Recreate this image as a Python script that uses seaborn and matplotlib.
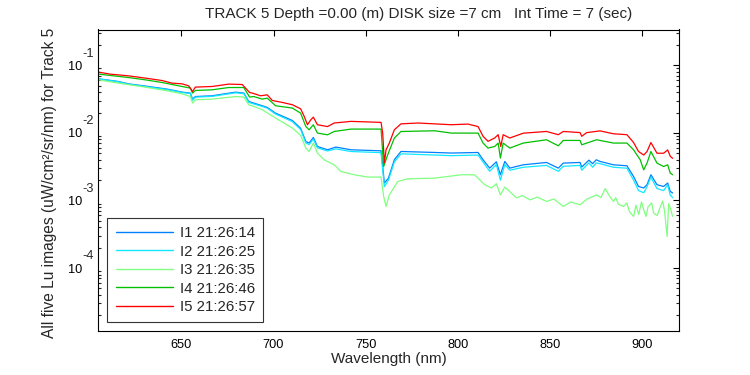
import numpy as np
import pandas as pd
import matplotlib
matplotlib.use("Agg")
import matplotlib.pyplot as plt
import seaborn as sns

# ---------------- data ----------------
wl_i5 = [605.0, 611.4, 621.3, 630.4, 639.5, 644.9, 650.4, 654.0, 656.1, 657.6, 666.7, 675.7, 683.0,
         685.7, 687.0, 688.5, 693.0, 696.6, 699.3, 704.8, 710.2, 714.7, 716.5, 718.4, 720.2, 721.6,
         723.8, 729.3, 732.9, 742.0, 758.3, 759.2, 760.1, 761.0, 762.8, 765.5, 769.1, 778.2, 787.3,
         796.4, 805.4, 810.9, 813.6, 816.3, 819.9, 821.8, 823.2, 824.5, 828.1, 835.4, 848.0, 854.4,
         857.1, 866.2, 867.1, 869.8, 877.0, 884.3, 891.6, 895.2, 897.9, 900.7, 902.5, 904.6, 907.9,
         911.5, 913.7, 915.1, 916.4]
lu_i5 = [0.0793, 0.0741, 0.0699, 0.0647, 0.0596, 0.0545, 0.0532, 0.0497, 0.0409, 0.0476, 0.0486, 0.0527, 0.0520,
         0.0434, 0.0396, 0.0388, 0.0354, 0.0366, 0.0302, 0.0282, 0.0261, 0.0227, 0.0179, 0.0132, 0.0156, 0.0171,
         0.0132, 0.0124, 0.0140, 0.0148, 0.0143, 0.0099, 0.0036, 0.0056, 0.0071, 0.0111, 0.0136, 0.0140, 0.0136,
         0.0132, 0.0135, 0.0124, 0.0089, 0.0075, 0.0084, 0.0094, 0.0063, 0.0094, 0.0084, 0.0099, 0.0105, 0.0094,
         0.0105, 0.0101, 0.0089, 0.0101, 0.0107, 0.0097, 0.0094, 0.0072, 0.0053, 0.0047, 0.0053, 0.0072, 0.0050,
         0.0050, 0.0056, 0.0045, 0.0042]

wl_i4 = [605.0, 621.3, 630.4, 639.5, 650.4, 654.9, 656.1, 657.6, 666.7, 675.7, 683.9, 685.7, 687.0, 689.3,
         693.9, 696.6, 701.1, 710.2, 714.7, 717.5, 719.3, 721.6, 723.8, 729.3, 732.9, 742.0, 758.3, 759.7,
         761.9, 765.5, 769.1, 787.3, 796.4, 810.9, 813.6, 816.3, 819.9, 821.8, 823.0, 824.5, 828.1, 835.4,
         848.0, 854.4, 857.1, 866.2, 867.1, 875.2, 884.3, 891.6, 895.2, 898.8, 900.7, 902.5, 904.6, 907.9,
         911.5, 913.7, 915.1, 916.4]
lu_i4 = [0.0741, 0.0660, 0.0610, 0.0557, 0.0486, 0.0460, 0.0388, 0.0424, 0.0434, 0.0469, 0.0469, 0.0388, 0.0339, 0.0345,
         0.0316, 0.0327, 0.0252, 0.0233, 0.0196, 0.01244, 0.01111, 0.01318, 0.00993, 0.00937, 0.01049, 0.01138, 0.01138, 0.00318,
         0.00474, 0.00838, 0.01049, 0.01074, 0.00993, 0.00993, 0.00707, 0.00596, 0.00629, 0.00707, 0.00424, 0.00707, 0.00596, 0.00707,
         0.00791, 0.00644, 0.00773, 0.00773, 0.00667, 0.00791, 0.00707, 0.00707, 0.00562, 0.00400, 0.00284, 0.00357, 0.00531, 0.00357,
         0.00318, 0.00337, 0.00254, 0.00240]

wl_i1 = [605.0, 615.9, 621.3, 632.2, 642.2, 650.4, 654.9, 656.1, 657.6, 666.7, 679.4, 683.9, 686.6, 689.3,
         693.9, 696.6, 701.1, 710.2, 714.7, 717.5, 719.3, 721.6, 723.8, 729.3, 733.8, 742.0, 758.3, 760.1,
         762.3, 765.5, 769.1, 787.3, 796.4, 810.9, 813.6, 817.2, 820.8, 823.0, 825.4, 828.1, 835.4, 848.0,
         854.4, 857.1, 866.2, 867.1, 871.0, 873.0, 875.0, 877.0, 884.3, 891.6, 895.2, 897.9, 900.7, 902.5,
         904.6, 907.9, 911.5, 913.7, 915.1, 916.4]
lu_i1 = [0.0631, 0.0576, 0.0532, 0.0486, 0.0445, 0.0401, 0.0388, 0.0316, 0.0345, 0.0354, 0.0401, 0.0388, 0.0291, 0.0276,
         0.0252, 0.0238, 0.0196, 0.01525, 0.0117, 0.00746, 0.00707, 0.00855, 0.00629, 0.00562, 0.00617, 0.00562, 0.00543, 0.00181,
         0.00214, 0.00400, 0.00531, 0.00513, 0.00503, 0.00513, 0.00400, 0.00301, 0.00373, 0.00240, 0.00378, 0.00301, 0.00337, 0.00365,
         0.00301, 0.00357, 0.00365, 0.00312, 0.00395, 0.00350, 0.00400, 0.00378, 0.00337, 0.00326, 0.00226, 0.00161, 0.00153, 0.00171,
         0.00240, 0.00171, 0.00161, 0.00181, 0.00136, 0.00129]

wl_i2 = wl_i1
lu_i2 = [0.0631, 0.0570, 0.0525, 0.0478, 0.0438, 0.0396, 0.0382, 0.0305, 0.0338, 0.0347, 0.0392, 0.0381, 0.0283, 0.0268,
         0.0246, 0.0232, 0.0190, 0.0147, 0.0112, 0.0071, 0.0067, 0.0081, 0.0060, 0.0054, 0.0058, 0.0053, 0.0051, 0.0016,
         0.0020, 0.0037, 0.0049, 0.0047, 0.0046, 0.0047, 0.0037, 0.0027, 0.0034, 0.0020, 0.0034, 0.0028, 0.0031, 0.0033,
         0.0027, 0.0032, 0.0033, 0.0028, 0.0036, 0.0031, 0.0036, 0.0035, 0.0031, 0.0030, 0.0020, 0.0014, 0.0013, 0.0016,
         0.0022, 0.0015, 0.0014, 0.0017, 0.0012, 0.0011]

wl_i3 = [605.0, 615.9, 630.4, 642.2, 650.4, 654.9, 656.1, 657.6, 666.7, 679.4, 683.9, 686.6, 689.3, 693.9,
         701.1, 710.2, 714.7, 717.5, 719.3, 721.6, 723.8, 727.4, 732.9, 736.5, 743.7, 751.0, 758.3, 759.7,
         761.0, 762.8, 767.4, 772.8, 787.3, 801.8, 809.0, 814.5, 818.1, 820.8, 823.0, 825.4, 831.7, 835.0,
         839.0, 843.0, 848.0, 852.0, 857.1, 861.0, 866.2, 870.0, 875.2, 877.5, 879.8, 882.0, 884.3, 885.5,
         887.0, 889.8, 891.5, 893.0, 895.2, 896.5, 898.0, 899.5, 900.7, 902.0, 903.0, 905.0, 906.1, 908.0,
         909.8, 911.0, 912.0, 913.4, 914.2, 915.1, 916.4]
lu_i3 = [0.0610, 0.0545, 0.0476, 0.0420, 0.0379, 0.0345, 0.0276, 0.0309, 0.0316, 0.0345, 0.0339, 0.0260, 0.0246, 0.0220,
         0.0166, 0.0118, 0.00922, 0.00596, 0.00531, 0.00707, 0.00503, 0.00400, 0.00337, 0.00269, 0.00240, 0.00222, 0.00222, 0.00115,
         0.000815, 0.00121, 0.00191, 0.00209, 0.00214, 0.00240, 0.00240, 0.00171, 0.00153, 0.00177, 0.00121, 0.00158, 0.00109, 0.00118,
         0.00102, 0.00112, 0.000967, 0.00105, 0.000815, 0.00095, 0.000863, 0.00105, 0.00121, 0.00110, 0.00150, 0.00118, 0.000967, 0.00110,
         0.00088, 0.000815, 0.00092, 0.00068, 0.000580, 0.00085, 0.00062, 0.00095, 0.000728, 0.00058, 0.00080, 0.00092, 0.000651, 0.00060,
         0.000815, 0.00098, 0.00070, 0.000293, 0.00090, 0.000772, 0.000580]

labels = ["I1 21:26:14", "I2 21:26:25", "I3 21:26:35", "I4 21:26:46", "I5 21:26:57"]
colors = ["#0080FF", "#10E8FF", "#80FF80", "#00C000", "#FF0000"]
x_ticks = [650, 700, 750, 800, 850, 900]
y_decades = [-4, -3, -2, -1]

title = "TRACK 5 Depth =0.00 (m) DISK size =7 cm   Int Time = 7 (sec)"
xlabel = "Wavelength (nm)"
ylabel = "All five Lu images (uW/cm\u00b2/sr/nm) for Track 5"

# ---------------- build long-form table ----------------
frames = []
for lab, wl, lu in zip(labels, [wl_i1, wl_i2, wl_i3, wl_i4, wl_i5], [lu_i1, lu_i2, lu_i3, lu_i4, lu_i5]):
    frames.append(pd.DataFrame({"wl": wl, "lu": lu, "series": lab}))
df = pd.concat(frames, ignore_index=True)

sns.set_theme(style="white")
plt.rcParams["font.family"] = ["Liberation Sans", "DejaVu Sans"]

fig = plt.figure(figsize=(7.5, 3.75), dpi=100)
ax = fig.add_axes([98.3 / 750, 1 - 331 / 375, (679.3 - 98.3) / 750, (331 - 29.5) / 375])

sns.lineplot(data=df, x="wl", y="lu", hue="series", hue_order=labels,
             palette=dict(zip(labels, colors)), estimator=None, sort=False,
             linewidth=0.9, ax=ax)

ax.set_yscale("log")
ax.set_xlim(605, 920)
ax.set_ylim(10 ** -4.932, 10 ** -0.47)

ax.set_xticks(x_ticks)
ax.set_xticklabels([str(t) for t in x_ticks], fontsize=9.2)
ax.set_yticks([10.0 ** d for d in y_decades])
ax.set_yticklabels(["10"] * len(y_decades), fontsize=9.2)
ax.yaxis.set_minor_locator(matplotlib.ticker.LogLocator(base=10, subs=np.arange(2, 10)))
ax.yaxis.set_minor_formatter(matplotlib.ticker.NullFormatter())
ax.tick_params(axis="both", which="major", direction="in", length=4.5, width=0.8,
               top=True, right=True, colors="black")
ax.tick_params(axis="y", which="minor", direction="in", length=2.3, width=0.8,
               left=True, right=True)
ax.tick_params(axis="y", which="major", pad=11.2)
ax.tick_params(axis="x", which="major", pad=6)

for d in y_decades:
    ax.annotate(str(d), xy=(0, 10.0 ** d), xycoords=("axes fraction", "data"),
                xytext=(-11.2, 8.5), textcoords="offset points",
                ha="left", va="center", fontsize=9.2)

for s in ax.spines.values():
    s.set_color("black")
    s.set_linewidth(0.8)
    s.set_visible(True)

ax.set_xlabel(xlabel, fontsize=11)
ax.xaxis.set_label_coords(0.5, -0.068)
ax.set_ylabel(ylabel, fontsize=11.2)
ax.yaxis.set_label_coords(-0.071, 0.49)
fig.text(419 / 750, 1 - 14 / 375, title, ha="center", va="center", fontsize=11)

leg = ax.legend(loc="lower left", bbox_to_anchor=(0.0155, 0.029), borderaxespad=0,
                fontsize=10.8, frameon=True, fancybox=False, edgecolor="black",
                handlelength=3.8, handletextpad=0.49, labelspacing=0.3, borderpad=0.55)
leg.get_frame().set_linewidth(0.8)
for line in leg.get_lines():
    line.set_linewidth(1.0)

fig.savefig("out.png", dpi=100)
